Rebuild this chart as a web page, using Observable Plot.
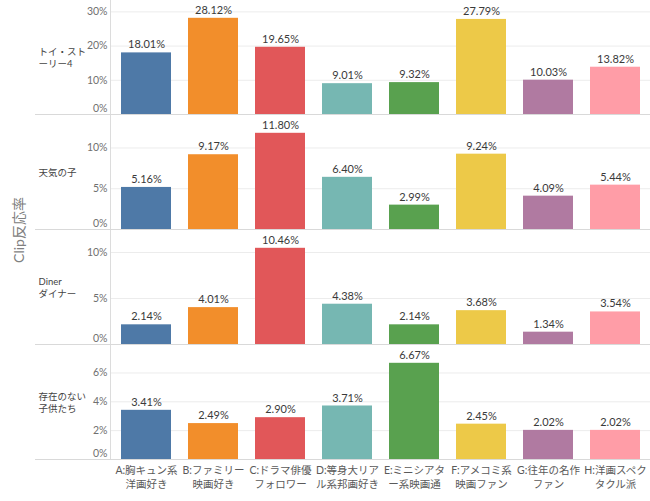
<!DOCTYPE html>
<html>
<head>
<meta charset="utf-8">
<script src="https://cdn.jsdelivr.net/npm/d3@7"></script>
<script src="https://cdn.jsdelivr.net/npm/@observablehq/plot@0.6"></script>
<style>
  body { margin: 0; background: white; }
  #chart { position: relative; width: 650px; height: 501px; font-family: Lato, "Noto Sans CJK JP", sans-serif; }
  #chart svg { display: block; }
  .sep { position: absolute; left: 35px; width: 615px; height: 1px; background: #d9d9d9; }
  #ytitle { position: absolute; left: 18px; top: 230px; transform: translate(-50%, -50%) rotate(-90deg); white-space: nowrap; font-size: 14px; color: #808080; }
</style>
</head>
<body>
<div id="chart"><div id="ytitle">Clip反応率</div></div>
<script>
const categories = ["A:胸キュン系\n洋画好き", "B:ファミリー\n映画好き", "C:ドラマ俳優\nフォロワー", "D:等身大リア\nル系邦画好き", "E:ミニシアタ\nー系映画通", "F:アメコミ系\n映画ファン", "G:往年の名作\nファン", "H:洋画スペク\nタクル派"];
const colors = ["#4e79a7", "#f28e2b", "#e15759", "#76b7b2", "#59a14f", "#edc948", "#b07aa1", "#ff9da7"];
const movies = ["トイ・スト\nーリー4", "天気の子", "Diner\nダイナー", "存在のない\n子供たち"];
const toyStory4 = [18.01, 28.12, 19.65, 9.01, 9.32, 27.79, 10.03, 13.82];
const weatheringWithYou = [5.16, 9.17, 11.80, 6.40, 2.99, 9.24, 4.09, 5.44];
const diner = [2.14, 4.01, 10.46, 4.38, 2.14, 3.68, 1.34, 3.54];
const capernaum = [3.41, 2.49, 2.90, 3.71, 6.67, 2.45, 2.02, 2.02];
const yTicks = [[0, 10, 20, 30], [0, 5, 10], [0, 5, 10], [0, 2, 4, 6]];

const series = [toyStory4, weatheringWithYou, diner, capernaum];
const chart = document.getElementById("chart");
const font = 'Lato, "Noto Sans CJK JP", sans-serif';

series.forEach((vals, i) => {
  const data = categories.map((c, j) => ({cat: c, v: vals[j]}));
  const last = i === series.length - 1;
  const ticks = yTicks[i];
  const p = Plot.plot({
    width: 650,
    height: last ? 156 : 115,
    marginLeft: 110, marginRight: 0, marginTop: 0, marginBottom: last ? 42 : 1,
    x: {domain: categories, range: [111.5, 650], paddingInner: 0.25, paddingOuter: 0.125, ...(last ? {} : {axis: null})},
    y: {domain: [0, d3.max(vals) * 1.185]},
    color: {domain: categories, range: colors},
    style: {fontFamily: font, fontSize: "10px", background: "white", overflow: "visible"},
    marks: [
      Plot.gridY(ticks.filter(t => t > 0), {stroke: "#ececec", strokeOpacity: 1}),
      Plot.frame({anchor: "left", stroke: "#dcdcdc", strokeOpacity: 1}),
      Plot.barY(data, {x: "cat", y: "v", fill: "cat"}),
      Plot.text(data, {x: "cat", y: "v", text: d => d.v.toFixed(2) + "%", dy: -8, fill: "#3a3a3a", fontSize: 11}),
      Plot.axisY(ticks.filter(t => t > 0), {tickSize: 0, tickPadding: 3, tickFormat: d => d + "%", fill: "#707070", label: null, fontSize: 10.5}),
      Plot.axisY([0], {tickSize: 0, tickPadding: 3, tickFormat: d => d + "%", fill: "#707070", label: null, dy: -6, fontSize: 10.5}),
      Plot.text([movies[i]], {text: d => d, frameAnchor: "left", dx: -72, textAnchor: "start", fill: "#444", fontSize: 9.5, lineHeight: 1.25}),
      last ? Plot.axisX({tickSize: 0, tickPadding: 5, label: null, fill: "#5a5a5a", fontSize: 10.5, lineHeight: 1.3, lineAnchor: "top"}) : null
    ]
  });
  chart.appendChild(p);
  const sep = document.createElement("div");
  sep.className = "sep";
  sep.style.top = (115 * (i + 1) - 1) + "px";
  chart.appendChild(sep);
});
</script>
</body>
</html>
